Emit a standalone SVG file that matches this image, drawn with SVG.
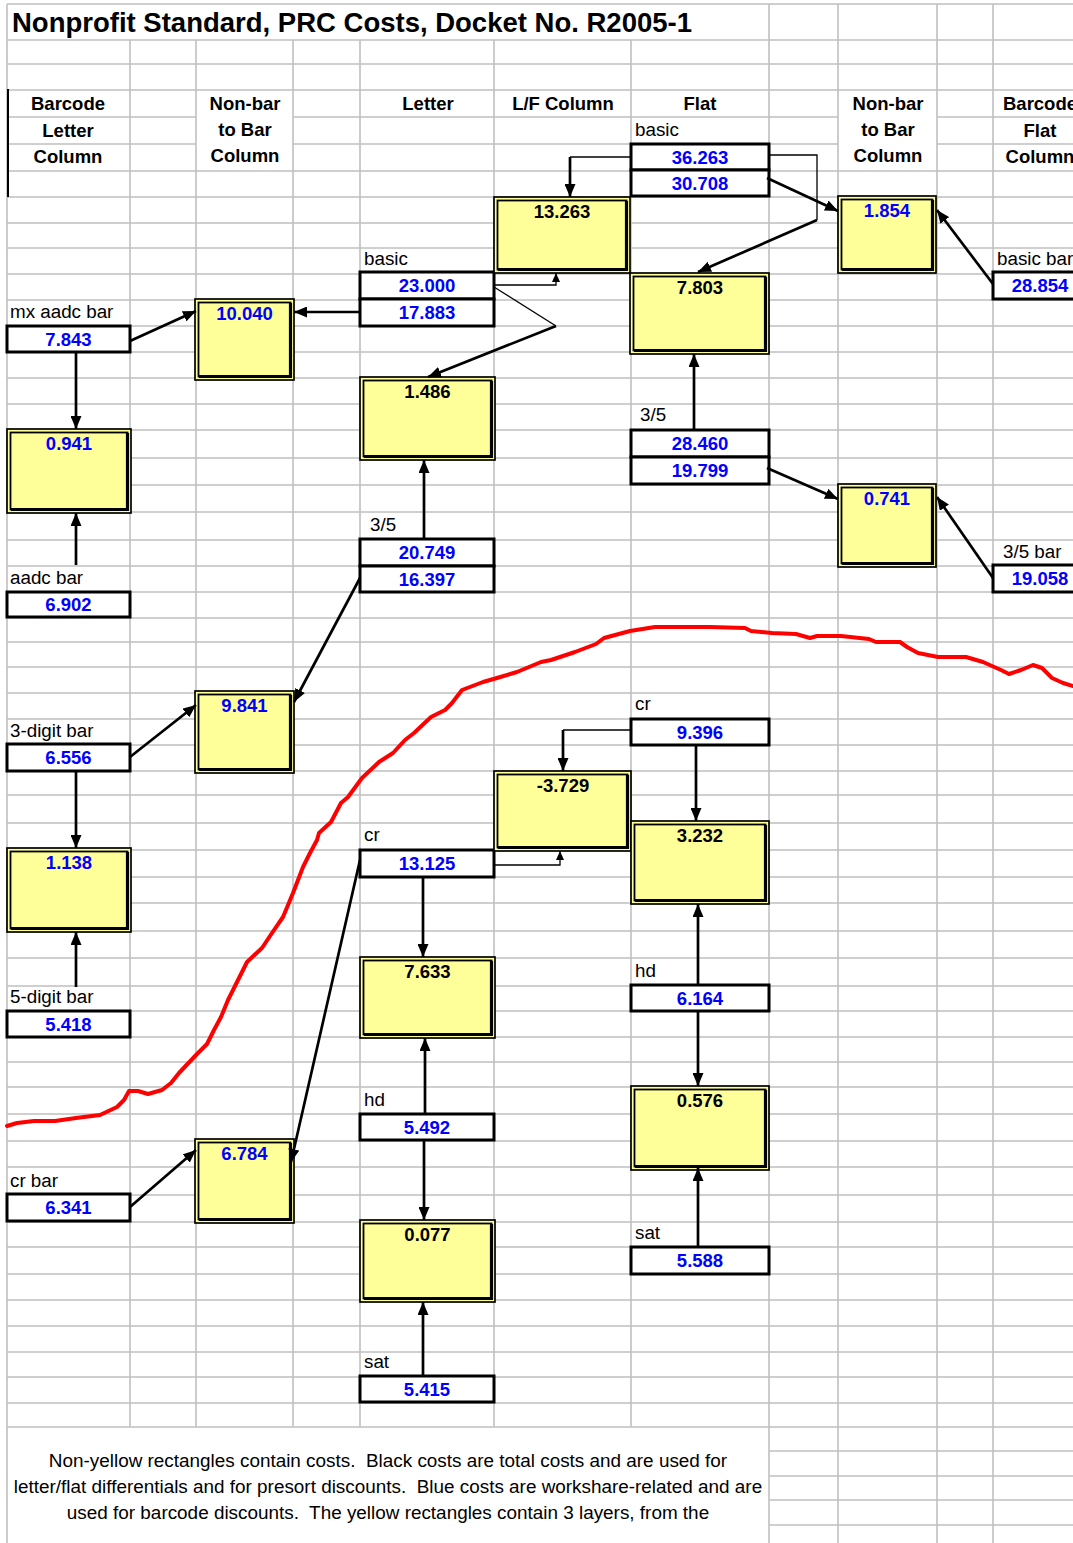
<svg xmlns="http://www.w3.org/2000/svg" width="1073" height="1543" viewBox="0 0 1073 1543">
<style>
.grid{stroke:#C0C0C0;stroke-width:1.6;fill:none}
.title{font-family:"Liberation Sans",Arial,sans-serif;font-weight:bold;font-size:27.5px;fill:#000}
.hdr{font-family:"Liberation Sans",Arial,sans-serif;font-weight:bold;font-size:18.5px;text-anchor:middle;fill:#000}
.lbl{font-family:"Liberation Sans",Arial,sans-serif;font-size:18.8px;fill:#000}
.val{font-family:"Liberation Sans",Arial,sans-serif;font-weight:bold;font-size:18.5px;text-anchor:middle;fill:#0000FF}
.blk{fill:#000}
.note{font-family:"Liberation Sans",Arial,sans-serif;font-size:18.9px;text-anchor:middle;fill:#000;white-space:pre}
.cost{fill:#fff;stroke:#000;stroke-width:3}
.yo{fill:#FFFF99;stroke:#000;stroke-width:1.7}
.yi{fill:none;stroke:#000;stroke-width:1.8}
.ys{fill:none;stroke:#000;stroke-width:3.2}
.thick{stroke:#000;stroke-width:2.7;fill:none}
.thin{stroke:#000;stroke-width:1.3;fill:none}
.arr{marker-end:url(#ah)}
.arrs{marker-end:url(#ahs)}
</style>
<defs>
<marker id="ah" markerUnits="userSpaceOnUse" markerWidth="13" markerHeight="11" refX="13" refY="5.5" orient="auto" viewBox="0 0 13 11"><path d="M0,0 L13,5.5 L0,11 Z" fill="#000"/></marker>
<marker id="ahs" markerUnits="userSpaceOnUse" markerWidth="9" markerHeight="8" refX="9" refY="4" orient="auto" viewBox="0 0 9 8"><path d="M0,0 L9,4 L0,8 Z" fill="#000"/></marker>
</defs>
<rect x="0" y="0" width="1073" height="1543" fill="#fff"/>
<g id="grid">
<path class="grid" d="M7,4H1073M7,40H1073M7,64H1073M7,90H1073M7,117H196M293,117H838M937,117H1073M7,144H196M293,144H838M937,144H1073M7,171H1073M7,197H1073M7,223H1073M7,248H1073M7,274H1073M7,300H1073M7,326H1073M7,352H1073M7,378H1073M7,404H1073M7,430H1073M7,458H1073M7,485H1073M7,512H1073M7,540H1073M7,566H1073M7,592H1073M7,618H1073M7,642H1073M7,667H1073M7,693H1073M7,719H1073M7,745H1073M7,771H1073M7,795H1073M7,823H1073M7,850H1073M7,877H1073M7,903H1073M7,931H1073M7,958H1073M7,986H1073M7,1011H1073M7,1037H1073M7,1062H1073M7,1087H1073M7,1114H1073M7,1141H1073M7,1167H1073M7,1195H1073M7,1222H1073M7,1247H1073M7,1274H1073M7,1300H1073M7,1326H1073M7,1352H1073M7,1377H1073M7,1403H1073M7,1427H1073M769,1451H1073M769,1476H1073M769,1500H1073M769,1525H1073"/>
<path class="grid" d="M7,4V1543M769,4V1543M838,4V1543M937,4V1543M993,4V1543M130,40V1427M196,40V1427M293,40V1427M360,40V1427M494,40V1427M631,40V1427"/>
<path d="M8,89V197" stroke="#000" stroke-width="2"/>
</g>
<g id="headers">
<text class="title" x="12" y="32">Nonprofit Standard, PRC Costs, Docket No. R2005-1</text>
<text class="hdr" x="68" y="110">Barcode</text>
<text class="hdr" x="68" y="137">Letter</text>
<text class="hdr" x="68" y="163">Column</text>
<text class="hdr" x="245" y="110">Non-bar</text>
<text class="hdr" x="245" y="136">to Bar</text>
<text class="hdr" x="245" y="162">Column</text>
<text class="hdr" x="428" y="110">Letter</text>
<text class="hdr" x="563" y="110">L/F Column</text>
<text class="hdr" x="700" y="110">Flat</text>
<text class="hdr" x="888" y="110">Non-bar</text>
<text class="hdr" x="888" y="136">to Bar</text>
<text class="hdr" x="888" y="162">Column</text>
<text class="hdr" x="1040" y="110">Barcode</text>
<text class="hdr" x="1040" y="137">Flat</text>
<text class="hdr" x="1040" y="163">Column</text>
</g>
<g id="cost-nodes">
<g id="flat-basic"><text class="lbl" x="635" y="136">basic</text><rect class="cost" x="631" y="144" width="138" height="26"/><text class="val" x="700" y="163.5">36.263</text><rect class="cost" x="631" y="170" width="138" height="26"/><text class="val" x="700" y="189.5">30.708</text></g>
<g id="letter-basic"><text class="lbl" x="364" y="265">basic</text><rect class="cost" x="360" y="272" width="134" height="27"/><text class="val" x="427" y="292">23.000</text><rect class="cost" x="360" y="299" width="134" height="27"/><text class="val" x="427" y="319">17.883</text></g>
<g id="mx-aadc-bar"><text class="lbl" x="10" y="318">mx aadc bar</text><rect class="cost" x="7" y="326" width="123" height="26"/><text class="val" x="68.5" y="345.5">7.843</text></g>
<g id="aadc-bar"><text class="lbl" x="10" y="584">aadc bar</text><rect class="cost" x="7" y="592" width="123" height="25"/><text class="val" x="68.5" y="611">6.902</text></g>
<g id="letter-3-5"><text class="lbl" x="370" y="531">3/5</text><rect class="cost" x="360" y="539" width="134" height="27"/><text class="val" x="427" y="559">20.749</text><rect class="cost" x="360" y="566" width="134" height="26"/><text class="val" x="427" y="585.5">16.397</text></g>
<g id="flat-3-5"><text class="lbl" x="640" y="421">3/5</text><rect class="cost" x="631" y="430" width="138" height="27"/><text class="val" x="700" y="450">28.460</text><rect class="cost" x="631" y="457" width="138" height="27"/><text class="val" x="700" y="477">19.799</text></g>
<g id="basic-bar"><text class="lbl" x="997" y="265">basic bar</text><rect class="cost" x="993" y="272" width="97" height="27"/><text class="val" x="1040" y="292">28.854</text></g>
<g id="bar-3-5"><text class="lbl" x="1003" y="558">3/5 bar</text><rect class="cost" x="993" y="565" width="97" height="27"/><text class="val" x="1040" y="585">19.058</text></g>
<g id="digit3-bar"><text class="lbl" x="10" y="737">3-digit bar</text><rect class="cost" x="7" y="744" width="123" height="27"/><text class="val" x="68.5" y="764">6.556</text></g>
<g id="digit5-bar"><text class="lbl" x="10" y="1003">5-digit bar</text><rect class="cost" x="7" y="1011" width="123" height="26"/><text class="val" x="68.5" y="1030.5">5.418</text></g>
<g id="cr-bar"><text class="lbl" x="10" y="1187">cr bar</text><rect class="cost" x="7" y="1194" width="123" height="27"/><text class="val" x="68.5" y="1214">6.341</text></g>
<g id="flat-cr"><text class="lbl" x="635" y="710">cr</text><rect class="cost" x="631" y="719" width="138" height="26"/><text class="val" x="700" y="738.5">9.396</text></g>
<g id="letter-cr"><text class="lbl" x="364" y="841">cr</text><rect class="cost" x="360" y="850" width="134" height="27"/><text class="val" x="427" y="870">13.125</text></g>
<g id="flat-hd"><text class="lbl" x="635" y="977">hd</text><rect class="cost" x="631" y="985" width="138" height="26"/><text class="val" x="700" y="1004.5">6.164</text></g>
<g id="letter-hd"><text class="lbl" x="364" y="1106">hd</text><rect class="cost" x="360" y="1114" width="134" height="26"/><text class="val" x="427" y="1133.5">5.492</text></g>
<g id="flat-sat"><text class="lbl" x="635" y="1239">sat</text><rect class="cost" x="631" y="1247" width="138" height="27"/><text class="val" x="700" y="1267">5.588</text></g>
<g id="letter-sat"><text class="lbl" x="364" y="1368">sat</text><rect class="cost" x="360" y="1376" width="134" height="26"/><text class="val" x="427" y="1395.5">5.415</text></g>
</g>
<g id="diff-nodes">
<g id="lf-basic"><rect class="yo" x="494" y="197" width="136" height="76"/><rect class="yi" x="497.5" y="200.5" width="129" height="69"/><path class="ys" d="M626.5,201V269.5H498"/><text class="val blk" x="562" y="218">13.263</text></g>
<g id="flat-basic-diff"><rect class="yo" x="630" y="273" width="139" height="81"/><rect class="yi" x="633.5" y="276.5" width="132" height="74"/><path class="ys" d="M765.5,277V350.5H634"/><text class="val blk" x="700" y="294">7.803</text></g>
<g id="letter-nb-basic"><rect class="yo" x="195" y="299" width="99" height="81"/><rect class="yi" x="198.5" y="302.5" width="92" height="74"/><path class="ys" d="M290.5,303V376.5H199"/><text class="val" x="244.5" y="320">10.040</text></g>
<g id="letter-basic-diff"><rect class="yo" x="360" y="377" width="135" height="83"/><rect class="yi" x="363.5" y="380.5" width="128" height="76"/><path class="ys" d="M491.5,381V456.5H364"/><text class="val blk" x="427.5" y="398">1.486</text></g>
<g id="flat-nb-basic"><rect class="yo" x="838" y="196" width="98" height="77"/><rect class="yi" x="841.5" y="199.5" width="91" height="70"/><path class="ys" d="M932.5,200V269.5H842"/><text class="val" x="887" y="217">1.854</text></g>
<g id="flat-nb-35"><rect class="yo" x="838" y="484" width="98" height="83"/><rect class="yi" x="841.5" y="487.5" width="91" height="76"/><path class="ys" d="M932.5,488V563.5H842"/><text class="val" x="887" y="505">0.741</text></g>
<g id="letter-bar-aadc"><rect class="yo" x="7" y="429" width="124" height="84"/><rect class="yi" x="10.5" y="432.5" width="117" height="77"/><path class="ys" d="M127.5,433V509.5H11"/><text class="val" x="69" y="450">0.941</text></g>
<g id="letter-nb-35"><rect class="yo" x="195" y="691" width="99" height="82"/><rect class="yi" x="198.5" y="694.5" width="92" height="75"/><path class="ys" d="M290.5,695V769.5H199"/><text class="val" x="244.5" y="712">9.841</text></g>
<g id="letter-bar-35"><rect class="yo" x="7" y="848" width="124" height="84"/><rect class="yi" x="10.5" y="851.5" width="117" height="77"/><path class="ys" d="M127.5,852V928.5H11"/><text class="val" x="69" y="869">1.138</text></g>
<g id="letter-nb-cr"><rect class="yo" x="195" y="1139" width="99" height="84"/><rect class="yi" x="198.5" y="1142.5" width="92" height="77"/><path class="ys" d="M290.5,1143V1219.5H199"/><text class="val" x="244.5" y="1160">6.784</text></g>
<g id="lf-cr"><rect class="yo" x="494" y="771" width="137" height="80"/><rect class="yi" x="497.5" y="774.5" width="130" height="73"/><path class="ys" d="M627.5,775V847.5H498"/><text class="val blk" x="563" y="792">-3.729</text></g>
<g id="flat-35-diff"><rect class="yo" x="631" y="821" width="138" height="83"/><rect class="yi" x="634.5" y="824.5" width="131" height="76"/><path class="ys" d="M765.5,825V900.5H635"/><text class="val blk" x="700" y="842">3.232</text></g>
<g id="letter-35-diff"><rect class="yo" x="360" y="957" width="135" height="81"/><rect class="yi" x="363.5" y="960.5" width="128" height="74"/><path class="ys" d="M491.5,961V1034.5H364"/><text class="val blk" x="427.5" y="978">7.633</text></g>
<g id="flat-hd-diff"><rect class="yo" x="631" y="1086" width="138" height="84"/><rect class="yi" x="634.5" y="1089.5" width="131" height="77"/><path class="ys" d="M765.5,1090V1166.5H635"/><text class="val blk" x="700" y="1107">0.576</text></g>
<g id="letter-hd-diff"><rect class="yo" x="360" y="1220" width="135" height="82"/><rect class="yi" x="363.5" y="1223.5" width="128" height="75"/><path class="ys" d="M491.5,1224V1298.5H364"/><text class="val blk" x="427.5" y="1241">0.077</text></g>
</g>
<g id="connectors">
<path class="thin" d="M631,157H570"/>
<path class="thick arr" d="M570,157V197"/>
<path class="thin" d="M769,155H817V220"/>
<path class="thick arr" d="M817,220L698,272"/>
<path class="thick arr" d="M767,178L838,211"/>
<path class="thick arr" d="M993,284L937,210"/>
<path class="thick arr" d="M993,578L937,497"/>
<path class="thick arr" d="M767,468L838,499"/>
<path class="thick arr" d="M694,430V354"/>
<path class="thin" d="M494,287L556,326"/>
<path class="thick arr" d="M556,326L428,377"/>
<path class="thin arrs" d="M494,285H556V273"/>
<path class="thick arr" d="M360,312H294"/>
<path class="thick arr" d="M130,341L196,311"/>
<path class="thick arr" d="M76,352V429"/>
<path class="thick arr" d="M76,565V513"/>
<path class="thick arr" d="M424,539V460"/>
<path class="thick arr" d="M360,578L294,702"/>
<path class="thick arr" d="M130,757L196,705"/>
<path class="thick arr" d="M76,771V848"/>
<path class="thick arr" d="M76,987V932"/>
<path class="thick arr" d="M360,860L291,1162"/>
<path class="thick arr" d="M130,1207L196,1150"/>
<path class="thin arrs" d="M494,865H560V851"/>
<path class="thin" d="M631,730H563"/>
<path class="thick arr" d="M563,730V771"/>
<path class="thick arr" d="M696,745V821"/>
<path class="thick arr" d="M698,985V904"/>
<path class="thick arr" d="M698,1011V1086"/>
<path class="thick arr" d="M698,1247V1168"/>
<path class="thick arr" d="M423,877V957"/>
<path class="thick arr" d="M425,1114V1038"/>
<path class="thick arr" d="M424,1140V1220"/>
<path class="thick arr" d="M423,1376V1302"/>
</g>
<g id="trend">
<polyline fill="none" stroke="#FF0000" stroke-width="4" stroke-linejoin="round" stroke-linecap="round" points="7,1126 17,1123 34,1121 55,1121 76,1118 100,1115 117,1107 124,1100 129,1091 138,1091 148,1094 162,1090 171,1083 179,1073 197,1054 207,1044 214,1030 221,1017 228,1000 238,980 247,962 262,948 272,933 283,917 293,893 303,867 310,853 317,840 319,833 331,822 341,803 348,797 362,778 379,762 393,753 405,740 414,733 431,717 445,710 452,703 462,690 483,682 497,678 517,672 541,662 551,660 575,652 596,644 604,638 630,631 655,627 710,627 745,628 751,631 772,633 796,634 810,638 817,636 841,636 869,639 876,642 900,642 907,647 918,653 938,657 966,657 983,662 1001,670 1009,674 1021,670 1033,665 1042,668 1052,678 1063,683 1073,686"/>
</g>
<g id="note">
<text class="note" x="388" y="1467" xml:space="preserve">Non-yellow rectangles contain costs.  Black costs are total costs and are used for</text>
<text class="note" x="388" y="1493" xml:space="preserve">letter/flat differentials and for presort discounts.  Blue costs are workshare-related and are</text>
<text class="note" x="388" y="1519" xml:space="preserve">used for barcode discounts.  The yellow rectangles contain 3 layers, from the</text>
</g>
</svg>
